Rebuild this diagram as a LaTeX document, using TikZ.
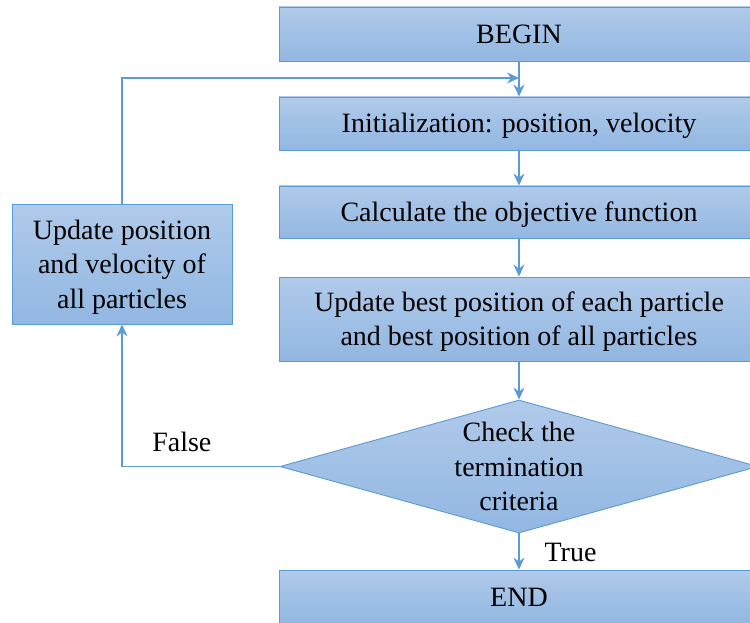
\documentclass[tikz,border=0pt]{standalone}
\usepackage{fontspec}
\setmainfont{Liberation Serif}
\usetikzlibrary{arrows.meta,shapes.geometric}
\definecolor{lineblue}{RGB}{91,155,213}
\definecolor{filltop}{RGB}{176,202,234}
\definecolor{fillbot}{RGB}{146,183,226}
\newcommand\sst{\rule[-6pt]{0pt}{31pt}}
\begin{document}
\begin{tikzpicture}[x=1pt,y=-1pt,
  txt/.style={font=\fontsize{28}{34.5}\selectfont, align=center, text=black, inner sep=0pt},
  box/.style={txt, draw=lineblue, line width=0.9pt, top color=filltop, bottom color=fillbot},
  arr/.style={draw=lineblue, line width=1.1pt, -{Stealth[length=12pt,width=11pt,inset=4pt]}}
]
\clip (0,0) rectangle (750,623);
\node[box, minimum width=480pt, minimum height=54pt] (begin) at (519,34) {\sst BEGIN};
\node[box, minimum width=480pt, minimum height=53pt] (init) at (519,123.5) {\sst Initialization: position, velocity};
\node[box, minimum width=480pt, minimum height=52pt] (calc) at (519,212) {\sst Calculate the objective function};
\node[box, minimum width=480pt, minimum height=84pt] (best) at (519,319) {\sst Update best position of each particle\\\sst and best position of all particles};
\node[diamond, draw=lineblue, line width=0.9pt, top color=filltop, bottom color=fillbot, inner sep=0pt, minimum width=478pt, minimum height=133pt] (dec) at (519,466.5) {};
\node[txt] (dectext) at (dec.center) {\sst Check the\\\sst termination\\\sst criteria};
\node[box, minimum width=480pt, minimum height=53pt] (end) at (519,596.5) {\sst END};
\node[box, minimum width=220pt, minimum height=120pt] (upd) at (122,264) {\sst Update position\\\sst and velocity of\\\sst all particles};
\coordinate (merge) at (519,78);

\draw[arr] (begin.south) -- (init.north);
\draw[arr] (init.south) -- (calc.north);
\draw[arr] (calc.south) -- (best.north);
\draw[arr] (best.south) -- (dec.north);
\draw[arr] (dec.south) -- node[txt, anchor=west, xshift=25pt] (truelbl) {\sst True} (end.north);
\draw[arr] (dec.west) -- node[txt, pos=0.62, yshift=25pt] (falselbl) {\sst False} (upd.south |- dec.west) -- (upd.south);
\draw[arr] (upd.north) -- (upd.north |- merge) -- (merge);
\end{tikzpicture}
\end{document}
